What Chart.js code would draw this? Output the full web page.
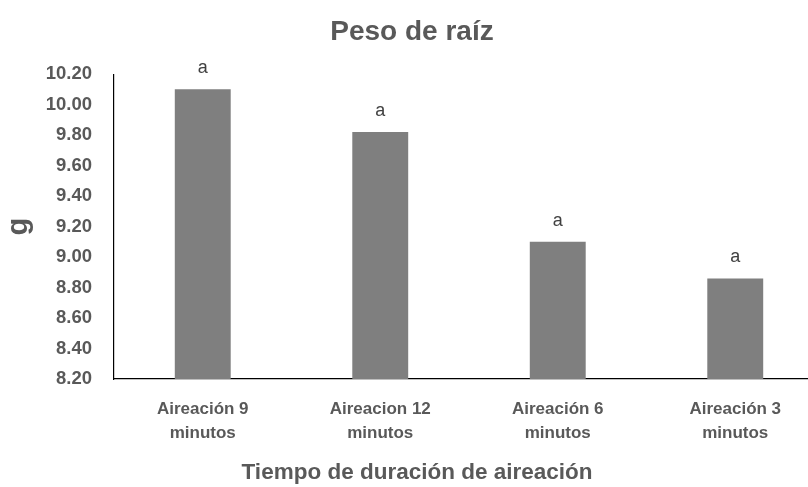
<!DOCTYPE html>
<html lang="es">
<head>
<meta charset="utf-8">
<title>Peso de raíz</title>
<script src="https://cdn.jsdelivr.net/npm/chart.js@4/dist/chart.umd.min.js"></script>
<style>
  html, body { margin: 0; padding: 0; background: #fff; overflow: hidden; }
  #wrap { width: 824px; height: 487px; }
</style>
</head>
<body>
<div id="wrap"><canvas id="chart" width="824" height="487"></canvas></div>
<script>
// Categories (two-line tick labels), mean root weight in g, and significance letters
const categories = [
  ['Aireación 9', 'minutos'],
  ['Aireacion 12', 'minutos'],
  ['Aireación 6', 'minutos'],
  ['Aireación 3', 'minutos']
];
const rootWeight = [10.10, 9.82, 9.10, 8.86];
const letters = ['a', 'a', 'a', 'a'];
const yMin = 8.20;
const yMax = 10.20;
const yStep = 0.20;

const FONT = "'Liberation Sans', Arial, Helvetica, sans-serif";
const TEXT_GREY = '#595959';

// Letters above each bar plus the horizontal axis title
const annotations = {
  id: 'annotations',
  afterDatasetsDraw(chart) {
    const ctx = chart.ctx;
    const meta = chart.getDatasetMeta(0);
    ctx.save();
    ctx.fillStyle = '#404040';
    ctx.font = `18px ${FONT}`;
    ctx.textAlign = 'center';
    ctx.textBaseline = 'alphabetic';
    meta.data.forEach((bar, i) => {
      ctx.fillText(letters[i], bar.x, bar.y - 16);
    });
    ctx.fillStyle = TEXT_GREY;
    ctx.font = `bold 22.5px ${FONT}`;
    ctx.fillText('Tiempo de duración de aireación', 417, 479);
    ctx.restore();
  }
};

new Chart(document.getElementById('chart'), {
  type: 'bar',
  data: {
    labels: categories,
    datasets: [{
      data: rootWeight,
      base: yMin,
      backgroundColor: '#7f7f7f',
      borderWidth: 0,
      barPercentage: 0.315,
      categoryPercentage: 1.0
    }]
  },
  options: {
    responsive: false,
    animation: false,
    devicePixelRatio: 1,
    layout: { padding: 0 },
    plugins: {
      legend: { display: false },
      tooltip: { enabled: false },
      title: {
        display: true,
        text: 'Peso de raíz',
        color: TEXT_GREY,
        font: { family: FONT, size: 28, weight: 'bold' },
        padding: { top: 15, bottom: 25.5 }
      }
    },
    scales: {
      x: {
        grid: { display: false, drawTicks: false },
        border: { display: true, color: '#000', width: 1.2 },
        ticks: {
          color: TEXT_GREY,
          padding: 19,
          maxRotation: 0,
          font: { family: FONT, size: 17, weight: 'bold', lineHeight: 1.38 }
        },
        afterFit(scale) { scale.height = 108; }
      },
      y: {
        min: yMin,
        max: yMax,
        grid: { display: false, drawTicks: false },
        border: { display: true, color: '#000', width: 1.2 },
        ticks: {
          stepSize: yStep,
          color: TEXT_GREY,
          padding: 22,
          font: { family: FONT, size: 18.5, weight: 'bold' },
          callback: (v) => Number(v).toFixed(2)
        },
        title: {
          display: true,
          text: 'g',
          color: TEXT_GREY,
          font: { family: FONT, size: 29, weight: 'bold' },
          padding: { top: 2, bottom: 0 }
        },
        afterFit(scale) { scale.width = 114; }
      }
    }
  },
  plugins: [annotations]
});
</script>
</body>
</html>
